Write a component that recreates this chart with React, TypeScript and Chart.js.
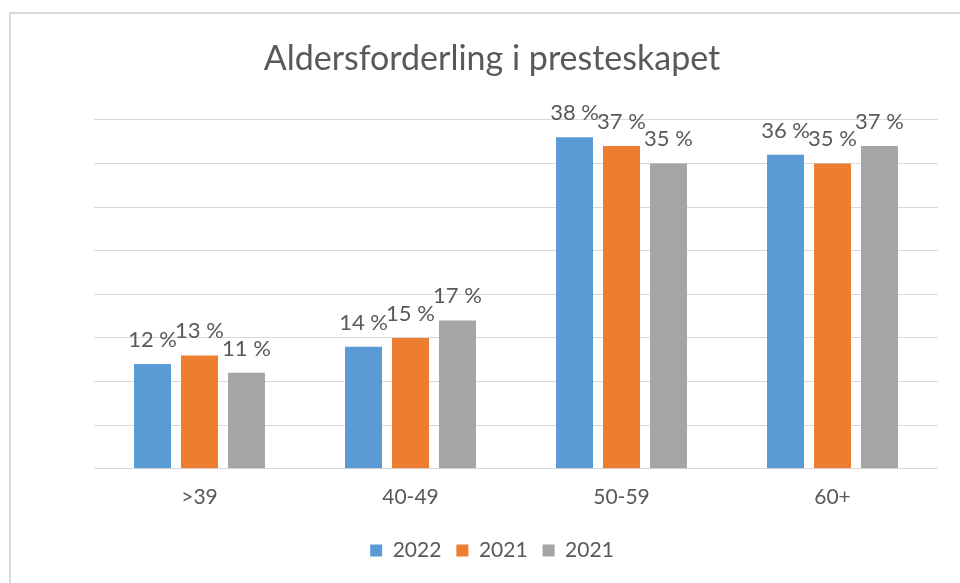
import React, { useEffect, useRef } from "react";
import { Chart, registerables } from "chart.js";

Chart.register(...registerables);

const title = "Aldersforderling i presteskapet";
const categories = [">39", "40-49", "50-59", "60+"];
const seriesLabels = ["2022", "2021", "2021"];
const values2022 = [12, 14, 38, 36];
const values2021a = [13, 15, 37, 35];
const values2021b = [11, 17, 35, 37];
const seriesColors = ["#5B9BD5", "#ED7D31", "#A5A5A5"];
const yMin = 0;
const yMax = 40;
const yStep = 5;

const FONT = "Lato";
const TEXT = "#595959";
const GRID = "#D9D9D9";

const framePlugin = {
  id: "frame",
  beforeDraw(chart: any) {
    const ctx = chart.ctx;
    ctx.save();
    ctx.fillStyle = "#FFFFFF";
    ctx.fillRect(0, 0, chart.width, chart.height);
    ctx.fillStyle = GRID;
    ctx.fillRect(9, 12, 2, chart.height - 12);
    ctx.fillRect(9, 12, chart.width - 9, 2);
    ctx.restore();
  },
};

const labelsPlugin = {
  id: "barLabels",
  afterDatasetsDraw(chart: any) {
    const ctx = chart.ctx;
    ctx.save();
    ctx.fillStyle = TEXT;
    ctx.font = `22px ${FONT}`;
    ctx.textAlign = "center";
    ctx.textBaseline = "alphabetic";
    chart.data.datasets.forEach((ds: any, i: number) => {
      const meta = chart.getDatasetMeta(i);
      meta.data.forEach((el: any, j: number) => {
        ctx.fillText(`${ds.data[j]} %`, el.x, el.y - 17);
      });
    });
    ctx.restore();
  },
};

export default function App() {
  const ref = useRef<HTMLCanvasElement | null>(null);
  useEffect(() => {
    if (!ref.current) return;
    const chart = new Chart(ref.current, {
      type: "bar",
      data: {
        labels: categories,
        datasets: [values2022, values2021a, values2021b].map((d, i) => ({
          label: seriesLabels[i],
          data: d,
          backgroundColor: seriesColors[i],
          borderWidth: 0,
          categoryPercentage: 0.668,
          barPercentage: 0.787,
        })),
      },
      options: {
        animation: false,
        responsive: false,
        layout: { padding: { left: 46, right: 22, top: 0, bottom: 12 } },
        plugins: {
          title: {
            display: true,
            text: title,
            color: TEXT,
            font: { family: FONT, size: 34, weight: "normal" },
            padding: { top: 39, bottom: 40 },
          },
          legend: {
            position: "bottom",
            labels: {
              color: TEXT,
              font: { family: FONT, size: 21 },
              boxWidth: 12,
              boxHeight: 12,
              padding: 15,
            },
          },
          tooltip: { enabled: false },
        },
        scales: {
          x: {
            grid: { display: false },
            border: { display: false },
            ticks: { color: TEXT, font: { family: FONT, size: 21 }, padding: 8 },
            afterFit: (s: any) => {
              s.height += 7;
            },
          },
          y: {
            min: yMin,
            max: yMax,
            ticks: { display: false, stepSize: yStep },
            grid: { color: GRID, lineWidth: 1, drawTicks: false },
            border: { display: false },
            afterFit: (s: any) => {
              s.width = 48;
            },
          },
        },
      },
      plugins: [framePlugin, labelsPlugin],
    });
    return () => chart.destroy();
  }, []);
  return (
    <div style={{ position: "absolute", left: 0, top: 0, width: 960, height: 583 }}>
      <canvas ref={ref} width={960} height={583} style={{ width: 960, height: 583 }} />
    </div>
  );
}
